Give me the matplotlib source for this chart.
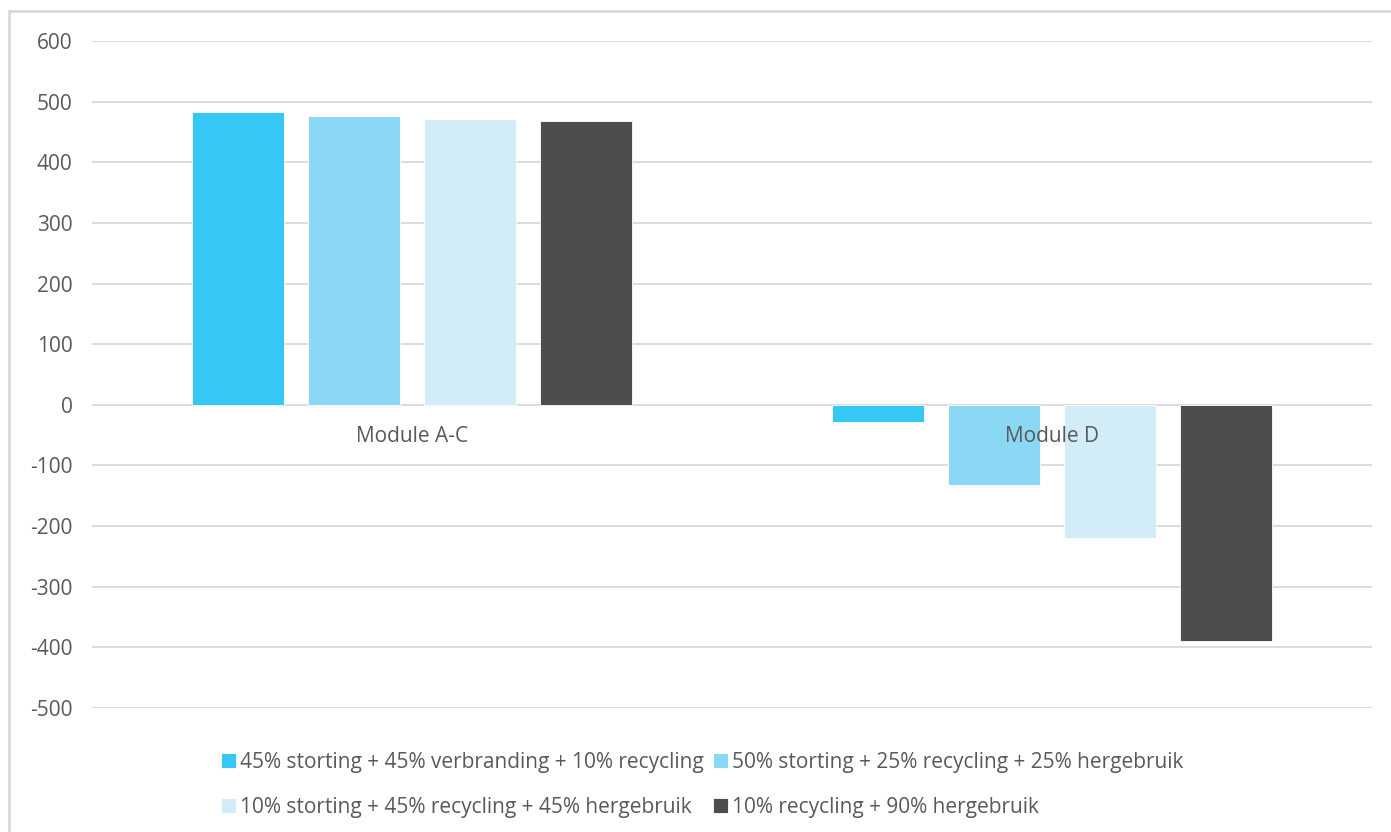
import numpy as np
import matplotlib
matplotlib.use('Agg')
import matplotlib.pyplot as plt
from matplotlib.patches import Rectangle

plt.rcParams['font.family'] = ['Open Sans', 'DejaVu Sans']
plt.rcParams['axes.unicode_minus'] = False

# data
modules = ['Module A-C', 'Module D']
scenarios = ['45% storting + 45% verbranding + 10% recycling',
             '50% storting + 25% recycling + 25% hergebruik',
             '10% storting + 45% recycling + 45% hergebruik',
             '10% recycling + 90% hergebruik']
values = [[483, -28],
          [476, -133],
          [471, -219],
          [468, -390]]
colors = ['#35C8F5', '#8AD8F4', '#D2ECF8', '#4D4D4F']

grey = '#595959'
fs = 15
fig = plt.figure(figsize=(13.91, 8.32), dpi=100)
ax = fig.add_axes([0.0661, 0.149, 0.9202, 0.8017])

x = np.arange(len(modules))
w = 0.144
step = 0.181
bars = []
for i in range(len(scenarios)):
    b = ax.bar(x + (i - 1.5) * step, values[i], width=w, color=colors[i],
               edgecolor='white', linewidth=0.6, label=scenarios[i], zorder=3)
    bars.append(b)

ax.set_xlim(-0.5, 1.5)
ax.set_ylim(-500, 600)
ax.set_yticks(np.arange(-500, 601, 100))
ax.yaxis.grid(True, color='#d9d9d9', linewidth=1.3, zorder=0)
ax.set_axisbelow(True)
ax.set_xticks([])
ax.tick_params(axis='y', length=0, labelsize=fs, labelcolor=grey, pad=14)
for s in ax.spines.values():
    s.set_visible(False)

for i, m in enumerate(modules):
    ax.annotate(m, (x[i], 0), xytext=(0, -15), textcoords='offset points',
                ha='center', va='top', fontsize=fs, color=grey, zorder=4)

# legend filled row by row: reorder for matplotlib's column-wise fill
order = [0, 2, 1, 3]
leg = fig.legend([bars[k] for k in order], [scenarios[k] for k in order],
                 loc='center', bbox_to_anchor=(0.505, 0.057), ncol=2,
                 frameon=False, fontsize=fs, handlelength=0.7,
                 handleheight=0.7, handletextpad=0.2, columnspacing=0.45,
                 labelspacing=1.15)
for t in leg.get_texts():
    t.set_color(grey)

# chart frame (cropped)
fig.add_artist(Rectangle((9 / 1391, -0.05), 1.2, 1 - 11 / 832 + 0.05,
                         transform=fig.transFigure, fill=False,
                         edgecolor='#d9d9d9', linewidth=2))

fig.savefig('out.png', dpi=100)
